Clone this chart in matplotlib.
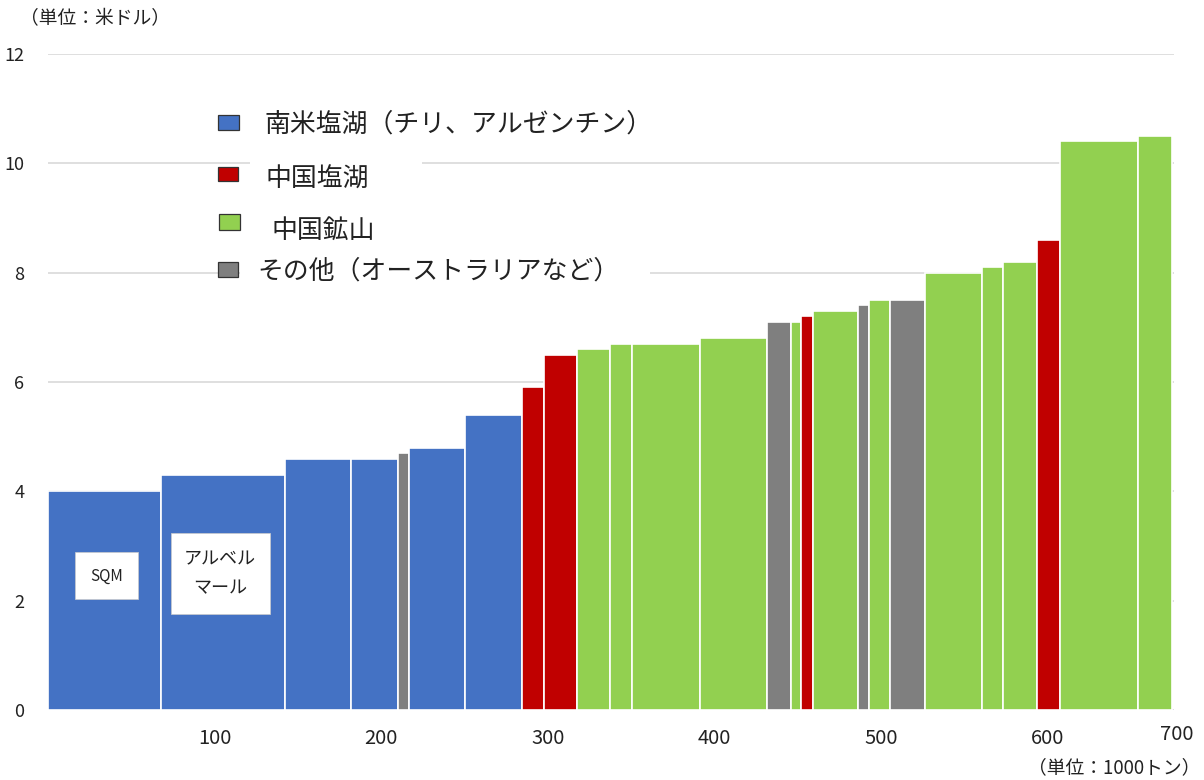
import matplotlib
matplotlib.use("Agg")
import matplotlib.pyplot as plt
from matplotlib.patches import Rectangle
import numpy as np

plt.rcParams['font.family'] = ['Noto Sans CJK JP', 'DejaVu Sans']

# ---- data ----
# category codes: B = 南米塩湖, R = 中国塩湖, G = 中国鉱山, O = その他
categories = ['B', 'B', 'B', 'B', 'O', 'B', 'B', 'R', 'R', 'G', 'G', 'G', 'G',
              'O', 'G', 'R', 'G', 'O', 'G', 'O', 'G', 'G', 'G', 'R', 'G', 'G']
widths = [68, 74, 40, 28, 6.5, 34, 34, 13, 20, 20, 13, 41, 40,
          14.5, 6, 7, 27, 6.6, 13, 21, 34, 13, 20, 14, 47, 20]   # 1000 t
costs = [4.0, 4.3, 4.6, 4.6, 4.7, 4.8, 5.4, 5.9, 6.5, 6.6, 6.7, 6.7, 6.8,
         7.1, 7.1, 7.2, 7.3, 7.4, 7.5, 7.5, 8.0, 8.1, 8.2, 8.6, 10.4, 10.5]  # USD
legend_codes = ['B', 'R', 'G', 'O']
legend_labels = ['南米塩湖（チリ、アルゼンチン）', '中国塩湖', '中国鉱山', 'その他（オーストラリアなど）']
x_ticks = [100, 200, 300, 400, 500, 600]
x_tick_labels = ['100', '200', '300', '400', '500', '600']
y_ticks = [0, 2, 4, 6, 8, 10, 12]
palette = {'B': '#4472C4', 'R': '#C00000', 'G': '#92D050', 'O': '#7F7F7F'}

W, H = 1204, 780
fig = plt.figure(figsize=(W / 100, H / 100), dpi=100)
ax = fig.add_axes([48 / W, 1 - 710 / H, (1174 - 48) / W, (710 - 54) / H])

lefts = np.concatenate([[0], np.cumsum(widths)[:-1]])
ax.bar(lefts, costs, width=widths, align='edge',
       color=[palette[c] for c in categories], edgecolor='white', linewidth=1.2,
       zorder=2)

ax.set_xlim(0, 676)
ax.set_ylim(0, 12)
ax.set_yticks(y_ticks)
ax.set_yticklabels([str(v) for v in y_ticks], fontsize=13, color='#222222')
ax.set_xticks(x_ticks)
ax.set_xticklabels(x_tick_labels, fontsize=14.5, color='#222222')
ax.tick_params(axis='both', length=0)
ax.tick_params(axis='x', pad=13)
ax.tick_params(axis='y', pad=17)
ax.text(1.002, -0.038, '700', transform=ax.transAxes, ha='center', va='center',
        fontsize=14.5, color='#222222')
for s in ax.spines.values():
    s.set_visible(False)
ax.grid(axis='y', color='#D9D9D9', linewidth=1.2, zorder=0)
ax.set_axisbelow(True)


def fx(px):
    return px / W


def fy(py):
    return 1 - py / H


def frect(x0, y0, x1, y1, **kw):
    r = Rectangle((fx(x0), fy(y1)), fx(x1) - fx(x0), fy(y0) - fy(y1),
                  transform=fig.transFigure, **kw)
    fig.add_artist(r)


# unit labels
fig.text(fx(20), fy(19), '（単位：米ドル）', fontsize=13.5, color='#222222', va='center', ha='left')
fig.text(fx(1200), fy(768), '（単位：1000トン）', fontsize=13.5, color='#222222', va='center', ha='right')

# legend (white backgrounds hide gridlines behind labels)
frect(250, 150, 422, 200, facecolor='white', edgecolor='none', zorder=3)
frect(240, 252, 650, 292, facecolor='white', edgecolor='none', zorder=3)
sq = [(218, 115, 239, 130), (218, 167, 238, 181), (219, 214, 240, 230), (218, 262, 238, 277)]
txt = [(265, 124), (265, 179), (272, 230), (257, 271)]
for code, label, (x0, y0, x1, y1), (tx, ty) in zip(legend_codes, legend_labels, sq, txt):
    frect(x0, y0, x1, y1, facecolor=palette[code], edgecolor='#333333', linewidth=0.9, zorder=4)
    fig.text(fx(tx), fy(ty), label, fontsize=18.6, color='#222222', va='center', ha='left', zorder=5)

# company boxes
frect(75, 552, 138, 599, facecolor='white', edgecolor='#cccccc', linewidth=0.5, zorder=4)
fig.text(fx(106.5), fy(576), 'SQM', fontsize=11, color='#222222', ha='center', va='center', zorder=5)
frect(171, 533, 270, 614, facecolor='white', edgecolor='#cccccc', linewidth=0.5, zorder=4)
fig.text(fx(220), fy(574), 'アルベル\nマール', fontsize=13, color='#222222', ha='center', va='center',
         linespacing=1.8, zorder=5)

fig.savefig('out.png', dpi=100)
